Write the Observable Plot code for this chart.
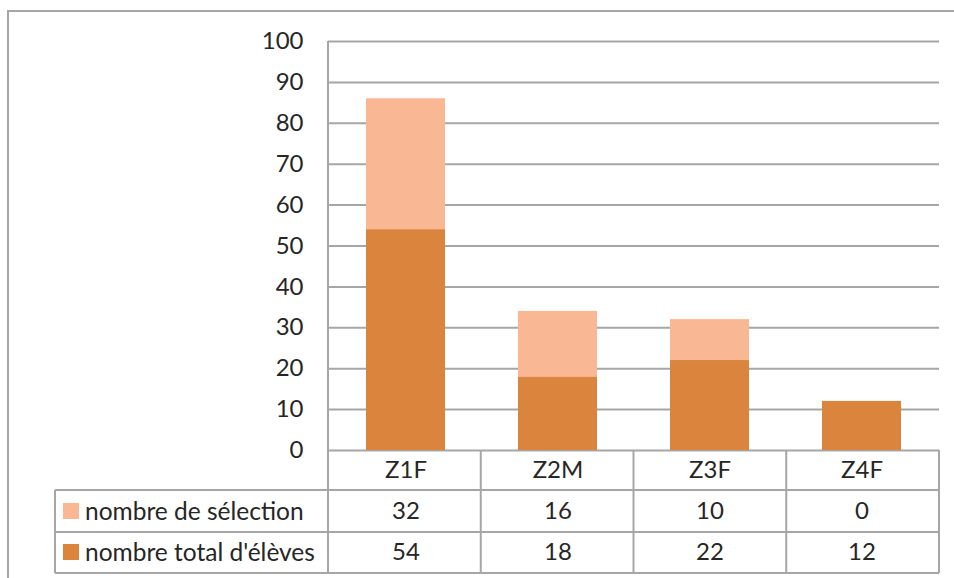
<!DOCTYPE html>
<html><head><meta charset="utf-8">
<script src="https://cdn.jsdelivr.net/npm/d3@7"></script>
<script src="https://cdn.jsdelivr.net/npm/@observablehq/plot@0.6"></script>
<style>html,body{margin:0;padding:0;background:#fff;overflow:hidden}</style>
</head><body><div id="chart"></div>
<script>
// ---- data ----
const categories = ["Z1F", "Z2M", "Z3F", "Z4F"];
const seriesNames = ["nombre de sélection", "nombre total d'élèves"];
const selection = [32, 16, 10, 0];
const totalEleves = [54, 18, 22, 12];
const yTicks = [0, 10, 20, 30, 40, 50, 60, 70, 80, 90, 100];
const seriesColors = ["#F9B793", "#DB843E"];

// ---- layout ----
const W = 954, H = 578, ML = 328, MR = 15, MT = 41, MB = 128;
const FONT = "Lato, 'Open Sans', sans-serif";
const FS = 24;
const GRID = "#a6a6a6";
const TXT = "#262626";

// stacked rows: total at bottom, selection on top
const rows = categories.flatMap((c, i) => [
  {cat: c, series: seriesNames[1], value: totalEleves[i]},
  {cat: c, series: seriesNames[0], value: selection[i]}
]);
const selRows = categories.map((c, i) => ({cat: c, v: selection[i]}));
const totRows = categories.map((c, i) => ({cat: c, v: totalEleves[i]}));

// row geometry of the data table (pixels below the zero line)
const rowEdges = [40, 82, 123];
const rowCenters = [20, 61, 102];

function tableMark(index, scales, values, dims) {
  const {width, height, marginLeft, marginRight, marginTop, marginBottom} = dims;
  const y0 = height - marginBottom;
  const n = categories.length;
  const step = (width - marginLeft - marginRight) / n;
  const g = d3.create("svg:g").attr("fill", "none").attr("stroke", GRID).attr("stroke-width", 2);
  const left = 55, right = width - marginRight;
  // outer chart border (top + left)
  g.append("path").attr("d", `M${width + 5},11 H8 V${height + 5}`);
  // plot area left axis line through table
  g.append("line").attr("x1", marginLeft).attr("x2", marginLeft).attr("y1", marginTop).attr("y2", y0 + rowEdges[2]);
  // category column separators
  for (let k = 1; k <= n; k++) {
    const x = marginLeft + k * step;
    g.append("line").attr("x1", x).attr("x2", x).attr("y1", y0).attr("y2", y0 + rowEdges[2]);
  }
  // horizontal table lines
  for (const e of rowEdges) {
    g.append("line").attr("x1", left).attr("x2", right).attr("y1", y0 + e).attr("y2", y0 + e);
  }
  g.append("line").attr("x1", left).attr("x2", left).attr("y1", y0 + rowEdges[0]).attr("y2", y0 + rowEdges[2]);
  // legend keys in table rows
  const legendOrder = [seriesNames[0], seriesNames[1]];
  legendOrder.forEach((s, i) => {
    const cy = y0 + rowCenters[i + 1];
    g.append("rect").attr("x", 63).attr("y", cy - 8).attr("width", 16).attr("height", 16)
      .attr("fill", scales.color(s)).attr("stroke", "none");
    g.append("text").attr("x", 85).attr("y", cy).attr("dy", "0.35em")
      .attr("text-anchor", "start")
      .attr("fill", TXT).attr("stroke", "none")
      .attr("font-family", FONT).attr("font-size", FS + 0.5).text(s);
  });
  return g.node();
}

const chart = Plot.plot({
  width: W, height: H,
  marginLeft: ML, marginRight: MR, marginTop: MT, marginBottom: MB,
  style: {fontFamily: FONT, fontSize: FS + "px", color: TXT, background: "#fff", overflow: "visible"},
  x: {domain: categories, paddingInner: 0.48, paddingOuter: 0.24, axis: null},
  y: {domain: [0, 100], axis: null},
  color: {domain: seriesNames, range: seriesColors},
  marks: [
    Plot.ruleY(yTicks, {y: d => d, stroke: GRID, strokeWidth: 2}),
    Plot.text(yTicks, {y: d => d, text: d => String(d), frameAnchor: "left", dx: -25, textAnchor: "end", lineAnchor: "middle", fill: TXT, fontSize: FS}),
    Plot.barY(rows, {x: "cat", y: "value", fill: "series"}),
    tableMark,
    Plot.text(categories, {x: d => d, text: d => d, frameAnchor: "bottom", lineAnchor: "middle", dy: rowCenters[0], fill: TXT, fontSize: FS}),
    Plot.text(selRows, {x: "cat", text: d => String(d.v), frameAnchor: "bottom", lineAnchor: "middle", dy: rowCenters[1], fill: TXT, fontSize: FS}),
    Plot.text(totRows, {x: "cat", text: d => String(d.v), frameAnchor: "bottom", lineAnchor: "middle", dy: rowCenters[2], fill: TXT, fontSize: FS})
  ]
});
document.getElementById("chart").appendChild(chart);
</script>
</body></html>
